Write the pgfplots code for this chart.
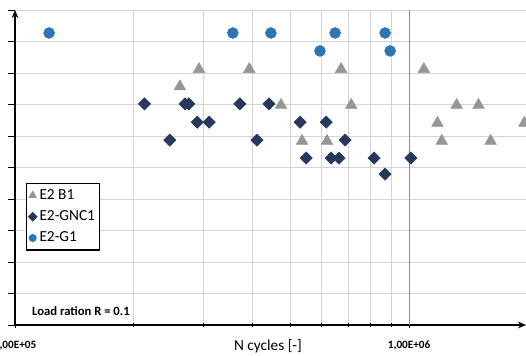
\documentclass[border=0pt]{standalone}
\usepackage{pgfplots}
\pgfplotsset{compat=1.18}
\usepackage{fontspec}
\setmainfont{Carlito}
\usetikzlibrary{arrows.meta}
\definecolor{cblue}{RGB}{46,117,182}
\definecolor{cnavy}{RGB}{38,56,92}
\definecolor{cgray}{RGB}{150,150,150}
\definecolor{gridminor}{RGB}{212,212,212}
\definecolor{gridmajor}{RGB}{140,140,140}
\pgfplotsset{smallmark/.style={legend image code/.code={\draw[##1, mark size=#1] plot coordinates {(0cm,0cm)};}}}

\begin{document}
\begin{tikzpicture}
\begin{axis}[
  scale only axis, width=383.25pt, height=236.25pt,
  xmode=log, xmin=1e5, xmax=1.98e6, ymin=0, ymax=10,
  axis lines=left,
  axis line style={line width=1.4pt, -{Stealth[length=6pt,width=5pt]}},
  xtick={1e5,1e6}, xticklabels={{1,00E+05},{1,00E+06}},
  minor xtick={2e5,3e5,4e5,5e5,6e5,7e5,8e5,9e5},
  ytick={0,1,...,10}, yticklabels={},
  xmajorgrids, xminorgrids, ymajorgrids,
  major grid style={gridminor, line width=0.7pt},
  minor grid style={gridminor, line width=0.7pt},
  tick style={black, line width=0.7pt},
  xtick align=center, ytick align=outside,
  major tick length=5pt, minor tick length=3pt,
  xticklabel style={font=\bfseries\fontsize{8.4}{9}\selectfont, anchor=center, yshift=-12.8pt},
  xlabel={N cycles [-]},
  xlabel style={at={(axis description cs:0.495,-0.0667)}, anchor=center, font=\fontsize{11.5}{13}\selectfont},
  legend cell align=left,
  legend style={at={(axis description cs:0.0215,0.451)}, anchor=north west, draw=black, line width=0.8pt,
    font=\fontsize{11.5}{13}\selectfont, inner xsep=1.5pt, inner ysep=2.5pt, row sep=3pt},
  clip=false,
]
\coordinate (O) at (axis description cs:0,0);
\coordinate (T) at (axis description cs:1,1);
\draw[gridmajor, line width=0.7pt] (axis cs:1e6,0) -- (axis cs:1e6,10);

\addplot[only marks, mark=triangle*, mark size=5pt, color=cgray, smallmark=3pt]
coordinates {
(2.62e5,7.57) (2.93e5,8.12) (3.93e5,8.12) (6.72e5,8.12) (1.09e6,8.12)
(4.73e5,6.98) (7.13e5,6.98) (1.32e6,6.98) (1.50e6,6.98)
(1.18e6,6.41) (1.96e6,6.41)
(5.35e5,5.84) (6.19e5,5.84) (1.21e6,5.84) (1.61e6,5.84)
};
\addlegendentry{E2 B1}

\addplot[only marks, mark=square*, mark options={rotate=45}, mark size=3.25pt, color=cnavy, smallmark=2.2pt]
coordinates {
(2.13e5,7.02) (2.47e5,5.87) (2.70e5,7.02) (2.76e5,7.02) (2.90e5,6.44)
(3.11e5,6.44) (3.72e5,7.02) (4.11e5,5.87) (4.41e5,7.02) (5.29e5,6.44)
(6.16e5,6.44) (6.88e5,5.87) (5.48e5,5.30) (6.34e5,5.30) (6.64e5,5.30)
(8.15e5,5.30) (1.01e6,5.30) (8.69e5,4.79)
};
\addlegendentry{E2-GNC1}

\addplot[only marks, mark=*, mark size=4.1pt, color=cblue, smallmark=2.6pt]
coordinates {
(1.22e5,9.27) (3.57e5,9.27) (4.46e5,9.27) (5.94e5,8.70) (6.49e5,9.27)
(8.69e5,9.27) (8.95e5,8.70)
};
\addlegendentry{E2-G1}

\node[font=\bfseries\fontsize{9.5}{11}\selectfont] at (axis description cs:0.129,0.044) {Load ration R = 0.1};
\end{axis}
\pgfresetboundingbox
\path[use as bounding box] ([shift={(-11.25pt,-23.25pt)}]O) rectangle ([shift={(0pt,7.5pt)}]T);
\end{tikzpicture}
\end{document}
